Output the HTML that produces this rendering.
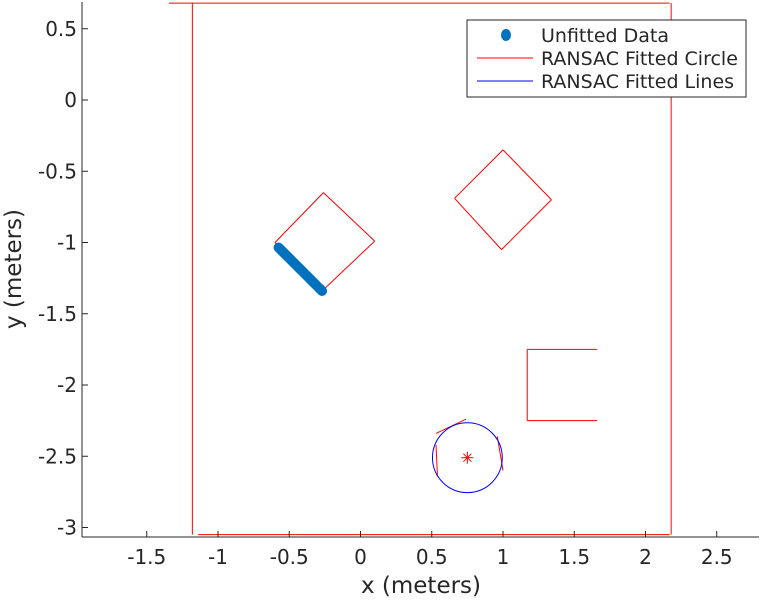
<!DOCTYPE html>
<html><head><meta charset="utf-8"><style>
body{margin:0;background:#fff;}
svg text{font-family:"DejaVu Sans","Liberation Sans",sans-serif;fill:#262626;}
</style></head><body>
<svg id="chart" width="761" height="599" xmlns="http://www.w3.org/2000/svg">
<g id="plot"></g>
<g id="axes"></g>
<g>
<rect x="467" y="20" width="279" height="77" fill="#fff" stroke="#262626" stroke-width="1"/>
<ellipse cx="506" cy="35" rx="5" ry="6" fill="#0072bd"/>
<text x="541" y="42" font-size="19">Unfitted Data</text>
<line x1="477" y1="58" x2="533" y2="58" stroke="#f00"/>
<text x="541" y="65" font-size="19">RANSAC Fitted Circle</text>
<line x1="477" y1="81" x2="533" y2="81" stroke="#00f"/>
<text x="541" y="88" font-size="19">RANSAC Fitted Lines</text>
</g>
</svg>
<script>
const xTicks=[-1.5,-1,-0.5,0,0.5,1,1.5,2,2.5];
const yTicks=[0.5,0,-0.5,-1,-1.5,-2,-2.5,-3];
const xTickLabels=["-1.5","-1","-0.5","0","0.5","1","1.5","2","2.5"];
const yTickLabels=["0.5","0","-0.5","-1","-1.5","-2","-2.5","-3"];
const redSegments=[
 [[-1.344,0.68],[2.17,0.68]],
 [[-1.18,0.68],[-1.18,-3.05]],
 [[2.18,0.68],[2.18,-3.05]],
 [[-1.14,-3.05],[2.17,-3.05]],
 [[-0.26,-0.65],[0.10,-0.99]],[[0.10,-0.99],[-0.28,-1.35]],[[-0.28,-1.35],[-0.60,-1.0]],[[-0.60,-1.0],[-0.26,-0.65]],
 [[1.0,-0.35],[1.34,-0.70]],[[1.34,-0.70],[0.99,-1.05]],[[0.99,-1.05],[0.66,-0.69]],[[0.66,-0.69],[1.0,-0.35]],
 [[1.66,-1.75],[1.17,-1.75]],[[1.17,-1.75],[1.17,-2.25]],[[1.17,-2.25],[1.66,-2.25]],
 [[0.53,-2.34],[0.74,-2.24]],[[0.53,-2.42],[0.54,-2.64]],[[0.96,-2.36],[1.0,-2.60]]
];
const circleCenter=[0.75,-2.51];
const circleRadius=0.245;
const unfittedStart=[-0.575,-1.035];
const unfittedEnd=[-0.27,-1.34];
const unfittedCount=[40];
const X0=360.5,S=142.5,Y0=100;
const sx=v=>X0+v*S, sy=v=>Y0-v*S;
const NS="http://www.w3.org/2000/svg";
const plot=document.getElementById('plot'), axes=document.getElementById('axes');
function mk(tag,attrs,parent){const e=document.createElementNS(NS,tag);for(const k in attrs)e.setAttribute(k,attrs[k]);parent.appendChild(e);return e;}
redSegments.forEach((s,i)=>{
 const l=mk('line',{x1:sx(s[0][0]),y1:sy(s[0][1]),x2:sx(s[1][0]),y2:sy(s[1][1]),stroke:'#f00','stroke-width':1},plot);
 
 
});
const c=mk('circle',{cx:sx(circleCenter[0]),cy:sy(circleCenter[1]),r:circleRadius*S,fill:'none',stroke:'#00f','stroke-width':1},plot);


const cx=sx(circleCenter[0]),cy=sy(circleCenter[1]);
[[-6,0,6,0],[0,-6,0,6],[-4,-4,4,4],[-4,4,4,-4]].forEach(d=>{
 const l=mk('line',{x1:cx+d[0],y1:cy+d[1],x2:cx+d[2],y2:cy+d[3],stroke:'#f00'},plot);
 
 
});
for(let i=0;i<unfittedCount[0];i++){
 const t=i/(unfittedCount[0]-1);
 const p=mk('circle',{cx:sx(unfittedStart[0]+(unfittedEnd[0]-unfittedStart[0])*t),cy:sy(unfittedStart[1]+(unfittedEnd[1]-unfittedStart[1])*t),r:5,fill:'#0072bd'},plot);
 
 
}
const L=82,R=759,T=2,B=537;
let a=mk('line',{x1:L,y1:B,x2:R,y2:B,stroke:'#262626'},axes);


a=mk('line',{x1:L,y1:T,x2:L,y2:B,stroke:'#262626'},axes);


xTicks.forEach((v,i)=>{
 const t=mk('line',{x1:sx(v),y1:B,x2:sx(v),y2:B-6,stroke:'#262626'},axes);
 
 
 const tx=mk('text',{x:sx(v),y:B+27,'font-size':20,'text-anchor':'middle'},axes);
 tx.textContent=xTickLabels[i];
 
 
});
yTicks.forEach((v,i)=>{
 const t=mk('line',{x1:L,y1:sy(v),x2:L+6,y2:sy(v),stroke:'#262626'},axes);
 
 
 const tx=mk('text',{x:L-5,y:sy(v)+7,'font-size':20,'text-anchor':'end'},axes);
 tx.textContent=yTickLabels[i];
 
 
});
let xl=mk('text',{x:421,y:593,'font-size':23,'text-anchor':'middle'},axes);
xl.textContent='x (meters)';


let yl=mk('text',{x:0,y:0,'font-size':23,'text-anchor':'middle',transform:'translate(21,269) rotate(-90)'},axes);
yl.textContent='y (meters)';


</script>
</body></html>
